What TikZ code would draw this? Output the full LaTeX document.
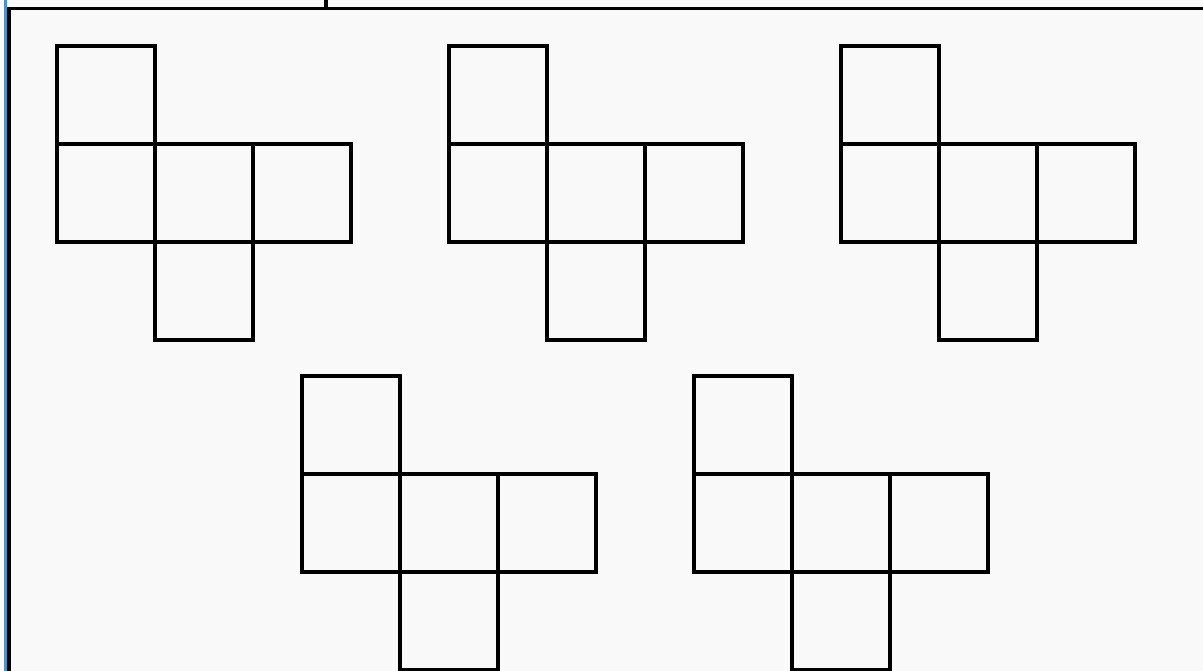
\documentclass[tikz,border=0pt]{standalone}
\usepackage{tikz}

\begin{document}
\begin{tikzpicture}[x=1pt, y=-1pt,
  netline/.style={line width=3.2pt, black, line join=miter},
  frameline/.style={line width=3.4pt, black}]
% Page
\useasboundingbox (0,0) rectangle (1203,671);
\fill[gray!5] (0,0) rectangle (1203,671);

% Frame at the left and top
\draw[line width=3pt, blue!45!cyan!70!black!70] (5.5,0) -- (5.5,671);
\draw[frameline] (9,671) -- (9,8.5) -- (1203,8.5);
\draw[frameline] (326,0) -- (326,8.5);

% Cube nets, cell 98
\foreach \ox/\oy in {57/46, 449/46, 841/46, 302/376, 694/376}{
  \begin{scope}[shift={(\ox,\oy)}, x=98pt, y=-98pt]
    % top square
    \draw[netline] (0,1) -- (0,0) -- (1,0) -- (1,1);
    % middle row
    \draw[netline] (0,1) rectangle (3,2);
    \draw[netline] (1,1) -- (1,2);
    \draw[netline] (2,1) -- (2,2);
    % bottom square
    \draw[netline] (1,2) -- (1,3) -- (2,3) -- (2,2);
  \end{scope}
}
\end{tikzpicture}
\end{document}
